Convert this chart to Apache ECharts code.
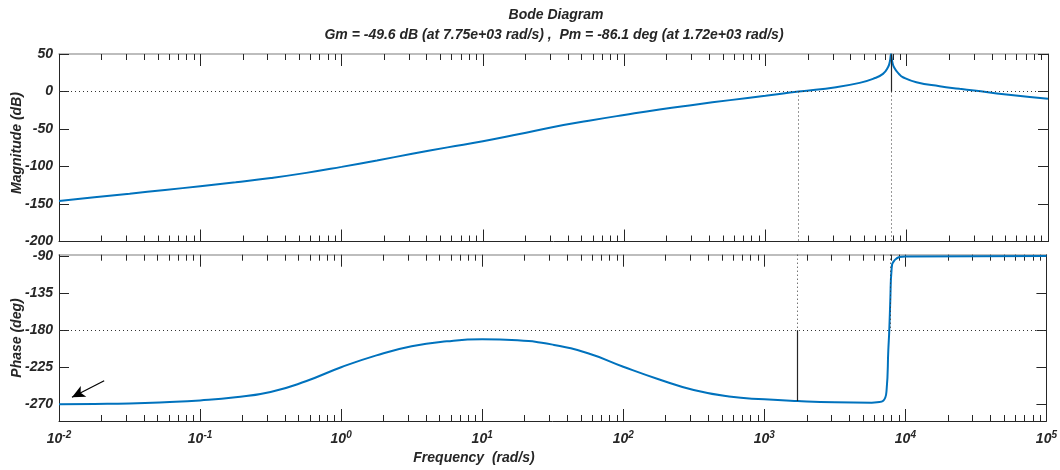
<!DOCTYPE html>
<html>
<head>
<meta charset="utf-8">
<script src="https://cdn.jsdelivr.net/npm/echarts@6/dist/echarts.min.js"></script>
<style>
html, body { margin: 0; padding: 0; background: #fff; }
#bode { width: 1060px; height: 470px; }
</style>
</head>
<body>
<div id="bode"></div>
<script>
// values
const magFreq = [0.01, 0.0178, 0.0316, 0.0562, 0.1, 0.178, 0.316, 0.562, 1, 1.78, 3.16, 5.62, 10, 17.8, 31.6, 56.2, 100, 178, 316, 562, 1000, 1720, 3160, 4640, 5770, 6790, 7370, 7600, 7750, 7900, 8150, 8850, 9400, 11700, 17100, 23700, 30000, 50700, 100000];
const magDb = [-145.9, -141, -136.2, -131.3, -126.3, -121, -115.3, -108.5, -100.5, -92, -83, -74.5, -66.3, -57, -47.3, -39, -31.3, -24, -17.6, -11.5, -5.8, 0, 5.8, 11.5, 16.9, 23.5, 32.3, 40, 49.6, 40, 32, 23, 19, 12.3, 7, 3.6, 1.3, -4, -9.7];

const phaseFreq = [0.01, 0.0178, 0.0316, 0.0562, 0.1, 0.178, 0.316, 0.562, 1, 1.78, 3.16, 5.62, 10, 17.8, 31.6, 56.2, 100, 178, 316, 562, 1000, 1720, 3160, 5770, 6300, 6970, 7360, 7570, 7690, 7820, 7980, 8430, 10000, 100000];
const phaseDeg = [-270, -269.6, -269, -267.5, -265.3, -261.5, -255, -242, -225, -210.5, -199.5, -193.5, -191, -192.3, -197.5, -208, -224.3, -239.5, -252.6, -260.5, -264, -266.1, -267.6, -268, -267.5, -265.6, -252.6, -204, -180, -143, -106.6, -94.5, -90.5, -89.8];

const decades = [0.01, 0.1, 1, 10, 100, 1000, 10000, 100000];
const magTicks = [50, 0, -50, -100, -150, -200];
const phaseTicks = [-90, -135, -180, -225, -270];

const gmFreq = 7750, gmDb = 49.6;   // Gm = -49.6 dB
const pmFreq = 1720, pmPhase = -266.1; // Pm = -86.1 deg
const phaseMin = -290.3, phaseMax = -88.2;

// minor ticks 2..9 of every decade
const minorFreq = [];
decades.slice(0, -1).forEach(d => { for (let k = 2; k <= 9; k++) minorFreq.push(+(d * k).toPrecision(3)); });

const FONT = '"Liberation Sans Narrow", "Liberation Sans", Arial, sans-serif';
const dark = '#262626';

function xAx(grid, pos, ticks, len, withLine, withLabels) {
    return {
        type: 'log', logBase: 10, gridIndex: grid, position: pos,
        min: 0.01, max: 100000,
        axisLine: { show: withLine, onZero: false, lineStyle: { color: pos === 'top' ? '#a8a8a8' : dark, width: pos === 'top' ? 1.5 : 1 } },
        axisTick: { show: true, inside: true, length: len, customValues: ticks, lineStyle: { color: dark } },
        axisLabel: {
            show: withLabels, customValues: decades, margin: 9,
            formatter: v => '{b|10}{s|' + Math.round(Math.log10(v)) + '}',
            rich: {
                b: { fontFamily: FONT, fontSize: 14, fontWeight: 'bold', fontStyle: 'italic', color: dark },
                s: { fontFamily: FONT, fontSize: 10, fontWeight: 'bold', fontStyle: 'italic', color: dark, padding: [0, 0, 9, 0] }
            }
        },
        splitLine: { show: false }
    };
}

function yAx(grid, pos, min, max, ticks, withLabels) {
    return {
        type: 'value', gridIndex: grid, position: pos, min: min, max: max,
        axisLine: { show: true, onZero: false, lineStyle: { color: dark } },
        axisTick: { show: true, inside: true, length: 10, customValues: ticks, lineStyle: { color: dark } },
        axisLabel: {
            show: withLabels, customValues: ticks, margin: 6,
            fontFamily: FONT, fontSize: 14, fontWeight: 'bold', fontStyle: 'italic', color: dark
        },
        splitLine: { show: false }
    };
}

const dotted = { color: '#333', width: 1, type: [1, 3] };
const solid = { color: dark, width: 1.2, type: 'solid' };

const chart = echarts.init(document.getElementById('bode'));
chart.setOption({
    animation: false,
    grid: [
        { left: 59, right: 12, top: 54, height: 187.5 },
        { left: 59, right: 12, top: 254.7, height: 166.3 }
    ],
    xAxis: [
        xAx(0, 'bottom', decades, 12, true, false),
        xAx(0, 'bottom', minorFreq, 6, false, false),
        xAx(0, 'top', decades, 12, true, false),
        xAx(0, 'top', minorFreq, 6, false, false),
        xAx(1, 'bottom', decades, 12, true, true),
        xAx(1, 'bottom', minorFreq, 6, false, false),
        xAx(1, 'top', decades, 12, true, false),
        xAx(1, 'top', minorFreq, 6, false, false)
    ],
    yAxis: [
        yAx(0, 'left', -200, 50, magTicks, true),
        yAx(0, 'right', -200, 50, magTicks, false),
        yAx(1, 'left', phaseMin, phaseMax, phaseTicks, true),
        yAx(1, 'right', phaseMin, phaseMax, phaseTicks, false)
    ],
    graphic: [
        { type: 'text', x: 556, y: 15, style: { text: 'Bode Diagram', align: 'center', verticalAlign: 'middle', font: 'italic bold 14px ' + FONT, fill: dark } },
        { type: 'text', x: 554, y: 35, style: { text: 'Gm = -49.6 dB (at 7.75e+03 rad/s) ,  Pm = -86.1 deg (at 1.72e+03 rad/s)', align: 'center', verticalAlign: 'middle', font: 'italic bold 14px ' + FONT, fill: dark } },
        { type: 'text', x: 17, y: 143, rotation: Math.PI / 2, style: { text: 'Magnitude (dB)', align: 'center', verticalAlign: 'middle', font: 'italic bold 14px ' + FONT, fill: dark } },
        { type: 'text', x: 17, y: 338, rotation: Math.PI / 2, style: { text: 'Phase (deg)', align: 'center', verticalAlign: 'middle', font: 'italic bold 14px ' + FONT, fill: dark } },
        { type: 'text', x: 474, y: 458, style: { text: 'Frequency  (rad/s)', align: 'center', verticalAlign: 'middle', font: 'italic bold 14px ' + FONT, fill: dark } }
    ],
    series: [
        {
            name: 'Magnitude', type: 'line', xAxisIndex: 0, yAxisIndex: 0,
            data: magFreq.map((f, i) => [f, magDb[i]]),
            showSymbol: false, smooth: 0.5,
            lineStyle: { color: '#0072BD', width: 2 },
            markLine: {
                silent: true, symbol: 'none', label: { show: false },
                data: [
                    [{ coord: [0.01, 0], lineStyle: dotted }, { coord: [100000, 0] }],
                    [{ coord: [pmFreq, 0], lineStyle: dotted }, { coord: [pmFreq, -200] }],
                    [{ coord: [gmFreq, 0], lineStyle: dotted }, { coord: [gmFreq, -200] }],
                    [{ coord: [gmFreq, 0], lineStyle: solid }, { coord: [gmFreq, gmDb] }]
                ]
            }
        },
        {
            name: 'Phase', type: 'line', xAxisIndex: 4, yAxisIndex: 2,
            data: phaseFreq.map((f, i) => [f, phaseDeg[i]]),
            showSymbol: false, smooth: 0.5,
            lineStyle: { color: '#0072BD', width: 2 },
            markLine: {
                silent: true, symbol: 'none', label: { show: false },
                data: [
                    [{ coord: [0.01, -180], lineStyle: dotted }, { coord: [100000, -180] }],
                    [{ coord: [pmFreq, phaseMax], lineStyle: dotted }, { coord: [pmFreq, -180] }],
                    [{ coord: [gmFreq, phaseMax], lineStyle: dotted }, { coord: [gmFreq, -180] }],
                    [{ coord: [pmFreq, -180], lineStyle: solid }, { coord: [pmFreq, pmPhase] }],
                    [{ coord: [0.0209, -241.3], lineStyle: { color: '#000', width: 1.2, type: 'solid' }, symbol: 'none' },
                     { coord: [0.01236, -261.5], symbol: 'arrow', symbolSize: [9, 13] }]
                ]
            }
        }
    ]
});
</script>
</body>
</html>
